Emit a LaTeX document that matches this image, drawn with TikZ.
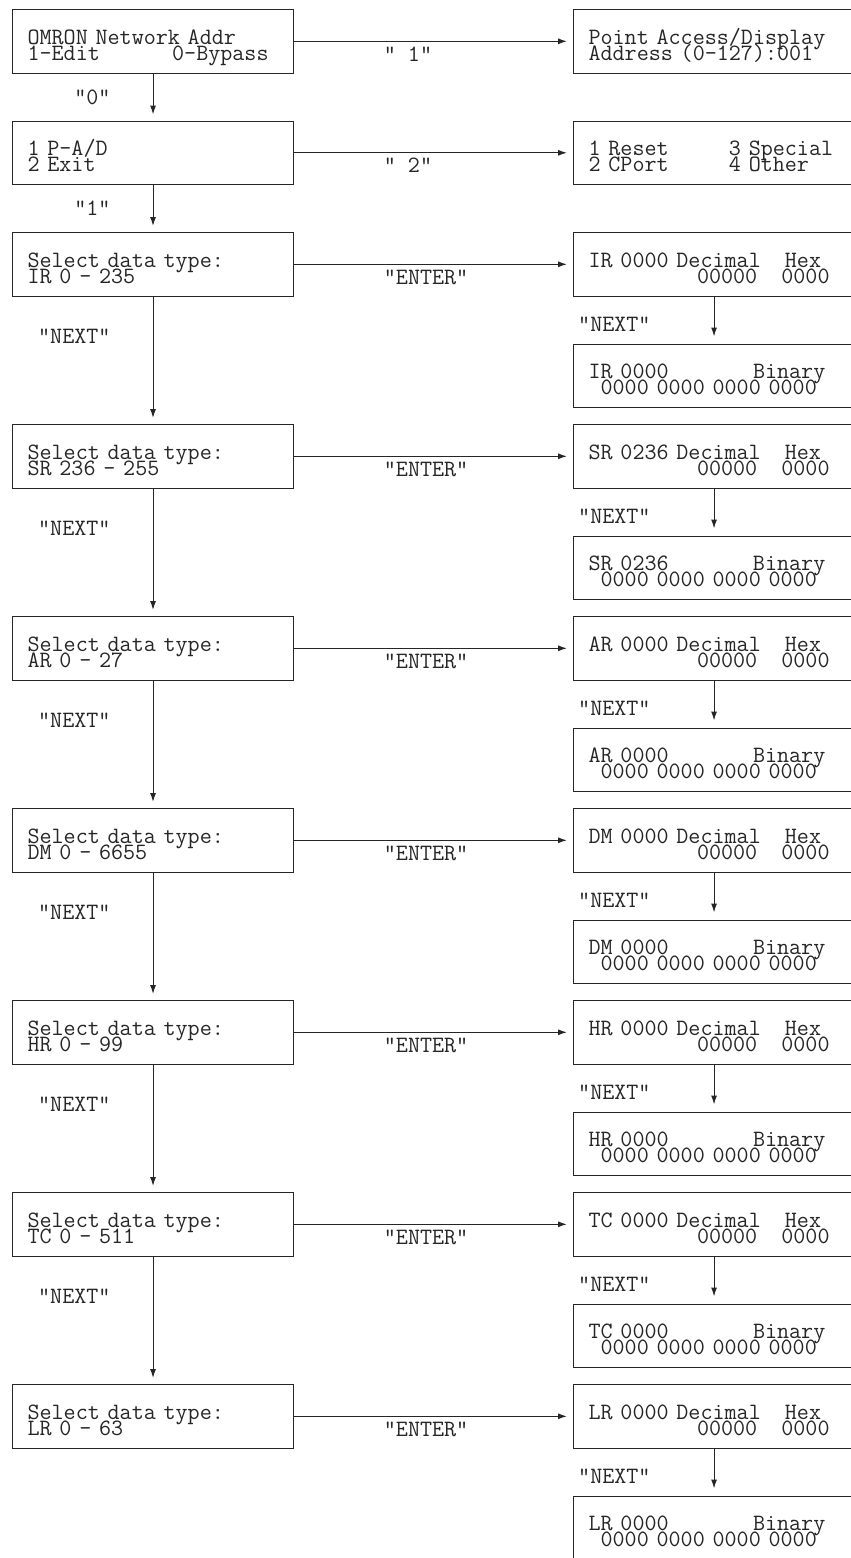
\documentclass[tikz,border=0pt]{standalone}
\usepackage{fontspec}
\usepackage{tikz}
\usetikzlibrary{arrows.meta,positioning}

\colorlet{ink}{black!85}
\newcommand\lcdfont{\ttfamily\fontsize{23.4}{16}\selectfont\lineskiplimit=-100pt\frenchspacing}
\newcommand\twoline[2]{\rule{0pt}{28pt}#1\\#2\rule[-6pt]{0pt}{6pt}}
\newcommand\dectext[1]{\twoline{#1 Decimal\hphantom{00}Hex}{\hphantom{000000000}00000\hphantom{00}0000}}
\newcommand\bintext[1]{\twoline{#1\hphantom{0000000}Binary}{\hphantom{0}0000 0000 0000 0000}}

\begin{document}
\begin{tikzpicture}[
  x=1pt, y=-1pt,
  lcd/.style={draw=ink, line width=1.1pt, text=ink, font=\lcdfont, align=left, text width=251pt, inner xsep=15pt, inner ysep=0pt, minimum height=63.5pt},
  lbl/.style={text=ink, font=\lcdfont, inner sep=0pt},
  arr/.style={-{Latex[length=9pt,width=6pt]}, draw=ink, line width=1.1pt, shorten >=6pt}
]
\clip (0,0) rectangle (851,1558);
% menu screens
\node[lcd, anchor=north west] (omron) at (12,9) {\twoline{OMRON Network Addr}{1-Edit\hphantom{000000}0-Bypass}};
\node[lcd, right=278.9pt of omron] (ptacc) {\twoline{Point Access/Display}{Address (0-127):001}};
\node[lcd, below=46.9pt of omron] (menu) {\twoline{1 P-A/D}{2 Exit}};
\node[lcd, right=278.9pt of menu] (special) {\twoline{1 Reset\hphantom{00000}3 Special}{2 CPort\hphantom{00000}4 Other}};
% data type screens
\node[lcd, below=46.9pt of menu] (selIR) {\twoline{Select data type:}{IR 0 - 235}};
\node[lcd, below=127.4pt of selIR] (selSR) {\twoline{Select data type:}{SR 236 - 255}};
\node[lcd, below=127.4pt of selSR] (selAR) {\twoline{Select data type:}{AR 0 - 27}};
\node[lcd, below=127.4pt of selAR] (selDM) {\twoline{Select data type:}{DM 0 - 6655}};
\node[lcd, below=127.4pt of selDM] (selHR) {\twoline{Select data type:}{HR 0 - 99}};
\node[lcd, below=127.4pt of selHR] (selTC) {\twoline{Select data type:}{TC 0 - 511}};
\node[lcd, below=127.4pt of selTC] (selLR) {\twoline{Select data type:}{LR 0 - 63}};
% value screens
\node[lcd, right=278.9pt of selIR] (decIR) {\dectext{IR 0000}};
\node[lcd, below=46.9pt of decIR] (binIR) {\bintext{IR 0000}};
\node[lcd, right=278.9pt of selSR] (decSR) {\dectext{SR 0236}};
\node[lcd, below=46.9pt of decSR] (binSR) {\bintext{SR 0236}};
\node[lcd, right=278.9pt of selAR] (decAR) {\dectext{AR 0000}};
\node[lcd, below=46.9pt of decAR] (binAR) {\bintext{AR 0000}};
\node[lcd, right=278.9pt of selDM] (decDM) {\dectext{DM 0000}};
\node[lcd, below=46.9pt of decDM] (binDM) {\bintext{DM 0000}};
\node[lcd, right=278.9pt of selHR] (decHR) {\dectext{HR 0000}};
\node[lcd, below=46.9pt of decHR] (binHR) {\bintext{HR 0000}};
\node[lcd, right=278.9pt of selTC] (decTC) {\dectext{TC 0000}};
\node[lcd, below=46.9pt of decTC] (binTC) {\bintext{TC 0000}};
\node[lcd, right=278.9pt of selLR] (decLR) {\dectext{LR 0000}};
\node[lcd, below=46.9pt of decLR] (binLR) {\bintext{LR 0000}};
% key presses
\draw[arr] (omron) -- node[lbl, pos=0.32, anchor=north west, yshift=-5pt] {“ 1”} (ptacc);
\draw[arr] (menu) -- node[lbl, pos=0.32, anchor=north west, yshift=-5pt] {“ 2”} (special);
\draw[arr] (omron) -- node[lbl, midway, anchor=east, xshift=-42pt] {“0”} (menu);
\draw[arr] (menu) -- node[lbl, midway, anchor=east, xshift=-42pt] {“1”} (selIR);
\draw[arr] (selIR) -- node[lbl, pos=0.31, anchor=east, xshift=-42pt] {“NEXT”} (selSR);
\draw[arr] (selSR) -- node[lbl, pos=0.31, anchor=east, xshift=-42pt] {“NEXT”} (selAR);
\draw[arr] (selAR) -- node[lbl, pos=0.31, anchor=east, xshift=-42pt] {“NEXT”} (selDM);
\draw[arr] (selDM) -- node[lbl, pos=0.31, anchor=east, xshift=-42pt] {“NEXT”} (selHR);
\draw[arr] (selHR) -- node[lbl, pos=0.31, anchor=east, xshift=-42pt] {“NEXT”} (selTC);
\draw[arr] (selTC) -- node[lbl, pos=0.31, anchor=east, xshift=-42pt] {“NEXT”} (selLR);
\draw[arr] (selIR) -- node[lbl, pos=0.32, anchor=north west, yshift=-5pt] {“ENTER”} (decIR);
\draw[arr] (selSR) -- node[lbl, pos=0.32, anchor=north west, yshift=-5pt] {“ENTER”} (decSR);
\draw[arr] (selAR) -- node[lbl, pos=0.32, anchor=north west, yshift=-5pt] {“ENTER”} (decAR);
\draw[arr] (selDM) -- node[lbl, pos=0.32, anchor=north west, yshift=-5pt] {“ENTER”} (decDM);
\draw[arr] (selHR) -- node[lbl, pos=0.32, anchor=north west, yshift=-5pt] {“ENTER”} (decHR);
\draw[arr] (selTC) -- node[lbl, pos=0.32, anchor=north west, yshift=-5pt] {“ENTER”} (decTC);
\draw[arr] (selLR) -- node[lbl, pos=0.32, anchor=north west, yshift=-5pt] {“ENTER”} (decLR);
\draw[arr, shorten >=7pt] (decIR) -- node[lbl, pos=0.58, anchor=east, xshift=-63pt] {“NEXT”} (binIR);
\draw[arr, shorten >=7pt] (decSR) -- node[lbl, pos=0.58, anchor=east, xshift=-63pt] {“NEXT”} (binSR);
\draw[arr, shorten >=7pt] (decAR) -- node[lbl, pos=0.58, anchor=east, xshift=-63pt] {“NEXT”} (binAR);
\draw[arr, shorten >=7pt] (decDM) -- node[lbl, pos=0.58, anchor=east, xshift=-63pt] {“NEXT”} (binDM);
\draw[arr, shorten >=7pt] (decHR) -- node[lbl, pos=0.58, anchor=east, xshift=-63pt] {“NEXT”} (binHR);
\draw[arr, shorten >=7pt] (decTC) -- node[lbl, pos=0.58, anchor=east, xshift=-63pt] {“NEXT”} (binTC);
\draw[arr, shorten >=7pt] (decLR) -- node[lbl, pos=0.58, anchor=east, xshift=-63pt] {“NEXT”} (binLR);
\end{tikzpicture}
\end{document}
